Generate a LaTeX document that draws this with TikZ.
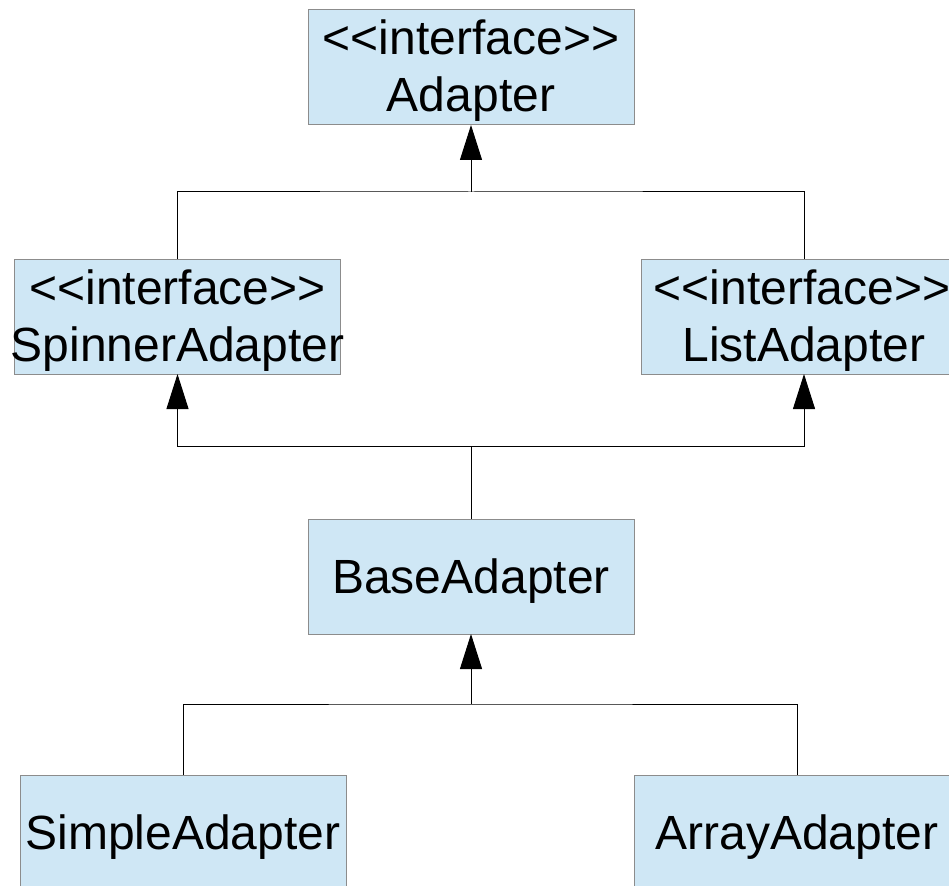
\documentclass[tikz,border=0pt]{standalone}
\usepackage{fontspec}
\setmainfont{Liberation Sans}[Ligatures=TeXOff]
\usetikzlibrary{arrows.meta}
\definecolor{boxfill}{RGB}{207,231,245}
\definecolor{boxline}{RGB}{140,140,140}
\begin{document}
\begin{tikzpicture}[x=1pt,y=-1pt,
  classbox/.style={draw=boxline, fill=boxfill, line width=1pt, rectangle,
    minimum width=326pt, minimum height=115pt, inner sep=0pt, outer sep=0pt},
  classtext/.style={anchor=base, inner sep=0pt, font=\fontsize{48}{57}\selectfont},
  link/.style={line width=1pt, black},
  inherit/.style={link, -{Triangle[length=35pt,width=22pt]}}]
\useasboundingbox (0,0) rectangle (949,885);
\clip (0,0) rectangle (949,885);

% class boxes
\node[classbox] (adapter) at (471,67.5) {};
\node[classbox] (spinner) at (177.5,316.5) {};
\node[classbox] (list)    at (804,316.5) {};
\node[classbox] (base)    at (471,576.5) {};
\node[classbox] (simple)  at (183,832.5) {};
\node[classbox] (array)   at (797,832.5) {};

% class names
\node[classtext] (adapterS) at (471,55)  {<<interface>>};
\node[classtext] (adapterN) at (471,112) {Adapter};
\node[classtext] (spinnerS) at (177.5,304) {<<interface>>};
\node[classtext] (spinnerN) at (177.5,361) {SpinnerAdapter};
\node[classtext] (listS)    at (802,304) {<<interface>>};
\node[classtext] (listN)    at (804,361) {ListAdapter};
\node[classtext] (baseN)    at (471,593) {BaseAdapter};
\node[classtext] (simpleN)  at (183,849) {SimpleAdapter};
\node[classtext] (arrayN)   at (797,849) {ArrayAdapter};

% junction points of the inheritance trees
\coordinate (topbus) at (471,192);
\coordinate (midbus) at (471,446);
\coordinate (lowbus) at (471,704);

% SpinnerAdapter, ListAdapter -> Adapter
\draw[inherit] (topbus) -- (adapter.south);
\draw[link] (spinner.north) |- (topbus) -| (list.north);

% BaseAdapter -> SpinnerAdapter, ListAdapter
\draw[link] (base.north) -- (midbus);
\draw[inherit] (midbus) -| (spinner.south);
\draw[inherit] (midbus) -| (list.south);

% SimpleAdapter, ArrayAdapter -> BaseAdapter
\draw[inherit] (lowbus) -- (base.south);
\draw[link] (simple.north) |- (lowbus) -| (array.north);
\end{tikzpicture}
\end{document}
